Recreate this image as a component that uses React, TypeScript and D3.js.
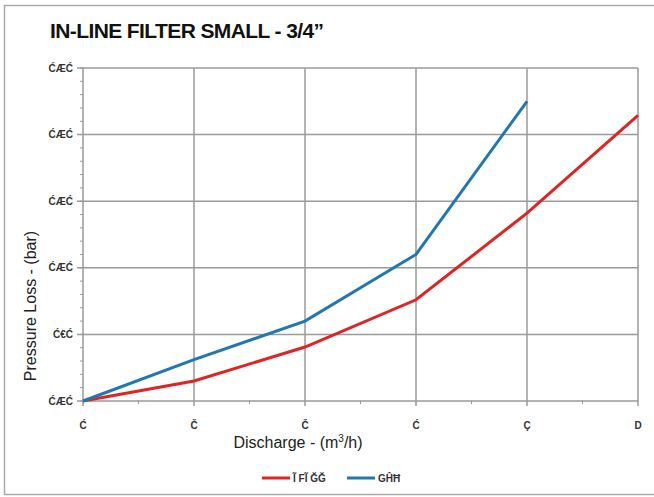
import * as d3 from 'd3';

// discharge ticks 0..5, pressure ticks 0..5 (labels are garbled glyphs in the source)
const xTickLabels = ['Ć', 'Č', 'Č', 'Ć', 'Ç', 'D'];
const yTickLabels = ['ĆÆĆ', 'ĆÆĆ', 'ĆÆĆ', 'ĆÆĆ', 'Ć€Ć', 'ĆÆĆ'];
const seriesNames = ['Ĩ FĨ ĞĞ', 'GĤĦ'];
const redValues = [0, 0.3, 0.81, 1.52, 2.82, 4.29];
const blueValues = [0, 0.62, 1.2, 2.2, 4.5];
const colors = ['#e02424', '#2277b0'];

const W = 654;
const H = 497;
const m = { left: 83, right: 638, top: 68, bottom: 401 };

export default function App() {
  const x = d3.scaleLinear().domain([0, 5]).range([m.left, m.right]);
  const y = d3.scaleLinear().domain([0, 5]).range([m.bottom, m.top]);
  const line = d3.line<number>().x((_, i) => x(i)).y(d => y(d));

  const majors = d3.range(0, 6);
  const yMinor = d3.range(0, 5.01, 0.2);
  const xMinor = d3.range(0.5, 5, 1);
  const grid = '#9a9a9a';

  return (
    <svg width={W} height={H} style={{ position: 'absolute', left: 0, top: 0 }}
      fontFamily="Liberation Sans, Arial, sans-serif">
      <rect x={0} y={0} width={W} height={H} fill="#fff" />
      <rect x={4.5} y={5.5} width={W - 3} height={489} fill="none" stroke="#aaa" strokeWidth={1.5} />
      <text x={50} y={38} fontSize={21} fontWeight="bold" fill="#111" letterSpacing={-0.6}>
        IN-LINE FILTER SMALL - 3/4”
      </text>

      {majors.map(i => (
        <line key={'gx' + i} x1={x(i)} x2={x(i)} y1={m.top} y2={m.bottom} stroke={grid} strokeWidth={1.5} />
      ))}
      {majors.map(i => (
        <line key={'gy' + i} x1={m.left - 6} x2={m.right} y1={y(i)} y2={y(i)} stroke={grid} strokeWidth={1.5} />
      ))}
      {yMinor.map((v, i) => (
        <line key={'my' + i} x1={m.left - 3} x2={m.left} y1={y(v)} y2={y(v)} stroke={grid} strokeWidth={1} />
      ))}
      {majors.map(i => (
        <line key={'tx' + i} x1={x(i)} x2={x(i)} y1={m.bottom} y2={m.bottom + 5} stroke={grid} strokeWidth={1.5} />
      ))}
      {xMinor.map((v, i) => (
        <line key={'mx' + i} x1={x(v)} x2={x(v)} y1={m.bottom} y2={m.bottom + 3} stroke={grid} strokeWidth={1} />
      ))}

      {yTickLabels.map((t, i) => (
        <text key={'yl' + i} x={m.left - 10} y={y(5 - i)} dy="0.35em" textAnchor="end" fontSize={10}
          fontWeight="bold" fill="#333">
          {t}
        </text>
      ))}
      {xTickLabels.map((t, i) => (
        <text key={'xl' + i} x={x(i)} y={m.bottom + 28} textAnchor="middle" fontSize={10}
          fontWeight="bold" fill="#333">
          {t}
        </text>
      ))}

      <path d={line(redValues) ?? ''} fill="none" stroke={colors[0]} strokeWidth={3} />
      <path d={line(blueValues) ?? ''} fill="none" stroke={colors[1]} strokeWidth={3} />

      <text x={298} y={448} textAnchor="middle" fontSize={16} fill="#222">
        Discharge - (m<tspan dy={-6} fontSize={10}>3</tspan><tspan dy={6}>/h)</tspan>
      </text>
      <text transform={`translate(36,${306}) rotate(-90)`} textAnchor="middle" fontSize={16} fill="#222">
        Pressure Loss - (bar)
      </text>

      {seriesNames.map((s, i) => (
        <g key={s} transform={`translate(${262 + i * 85},478)`}>
          <line x1={0} x2={28} y1={0} y2={0} stroke={colors[i]} strokeWidth={3} />
          <text x={31} y={0} dy="0.35em" fontSize={10} fontWeight="bold" fill="#333">{s}</text>
        </g>
      ))}
    </svg>
  );
}
